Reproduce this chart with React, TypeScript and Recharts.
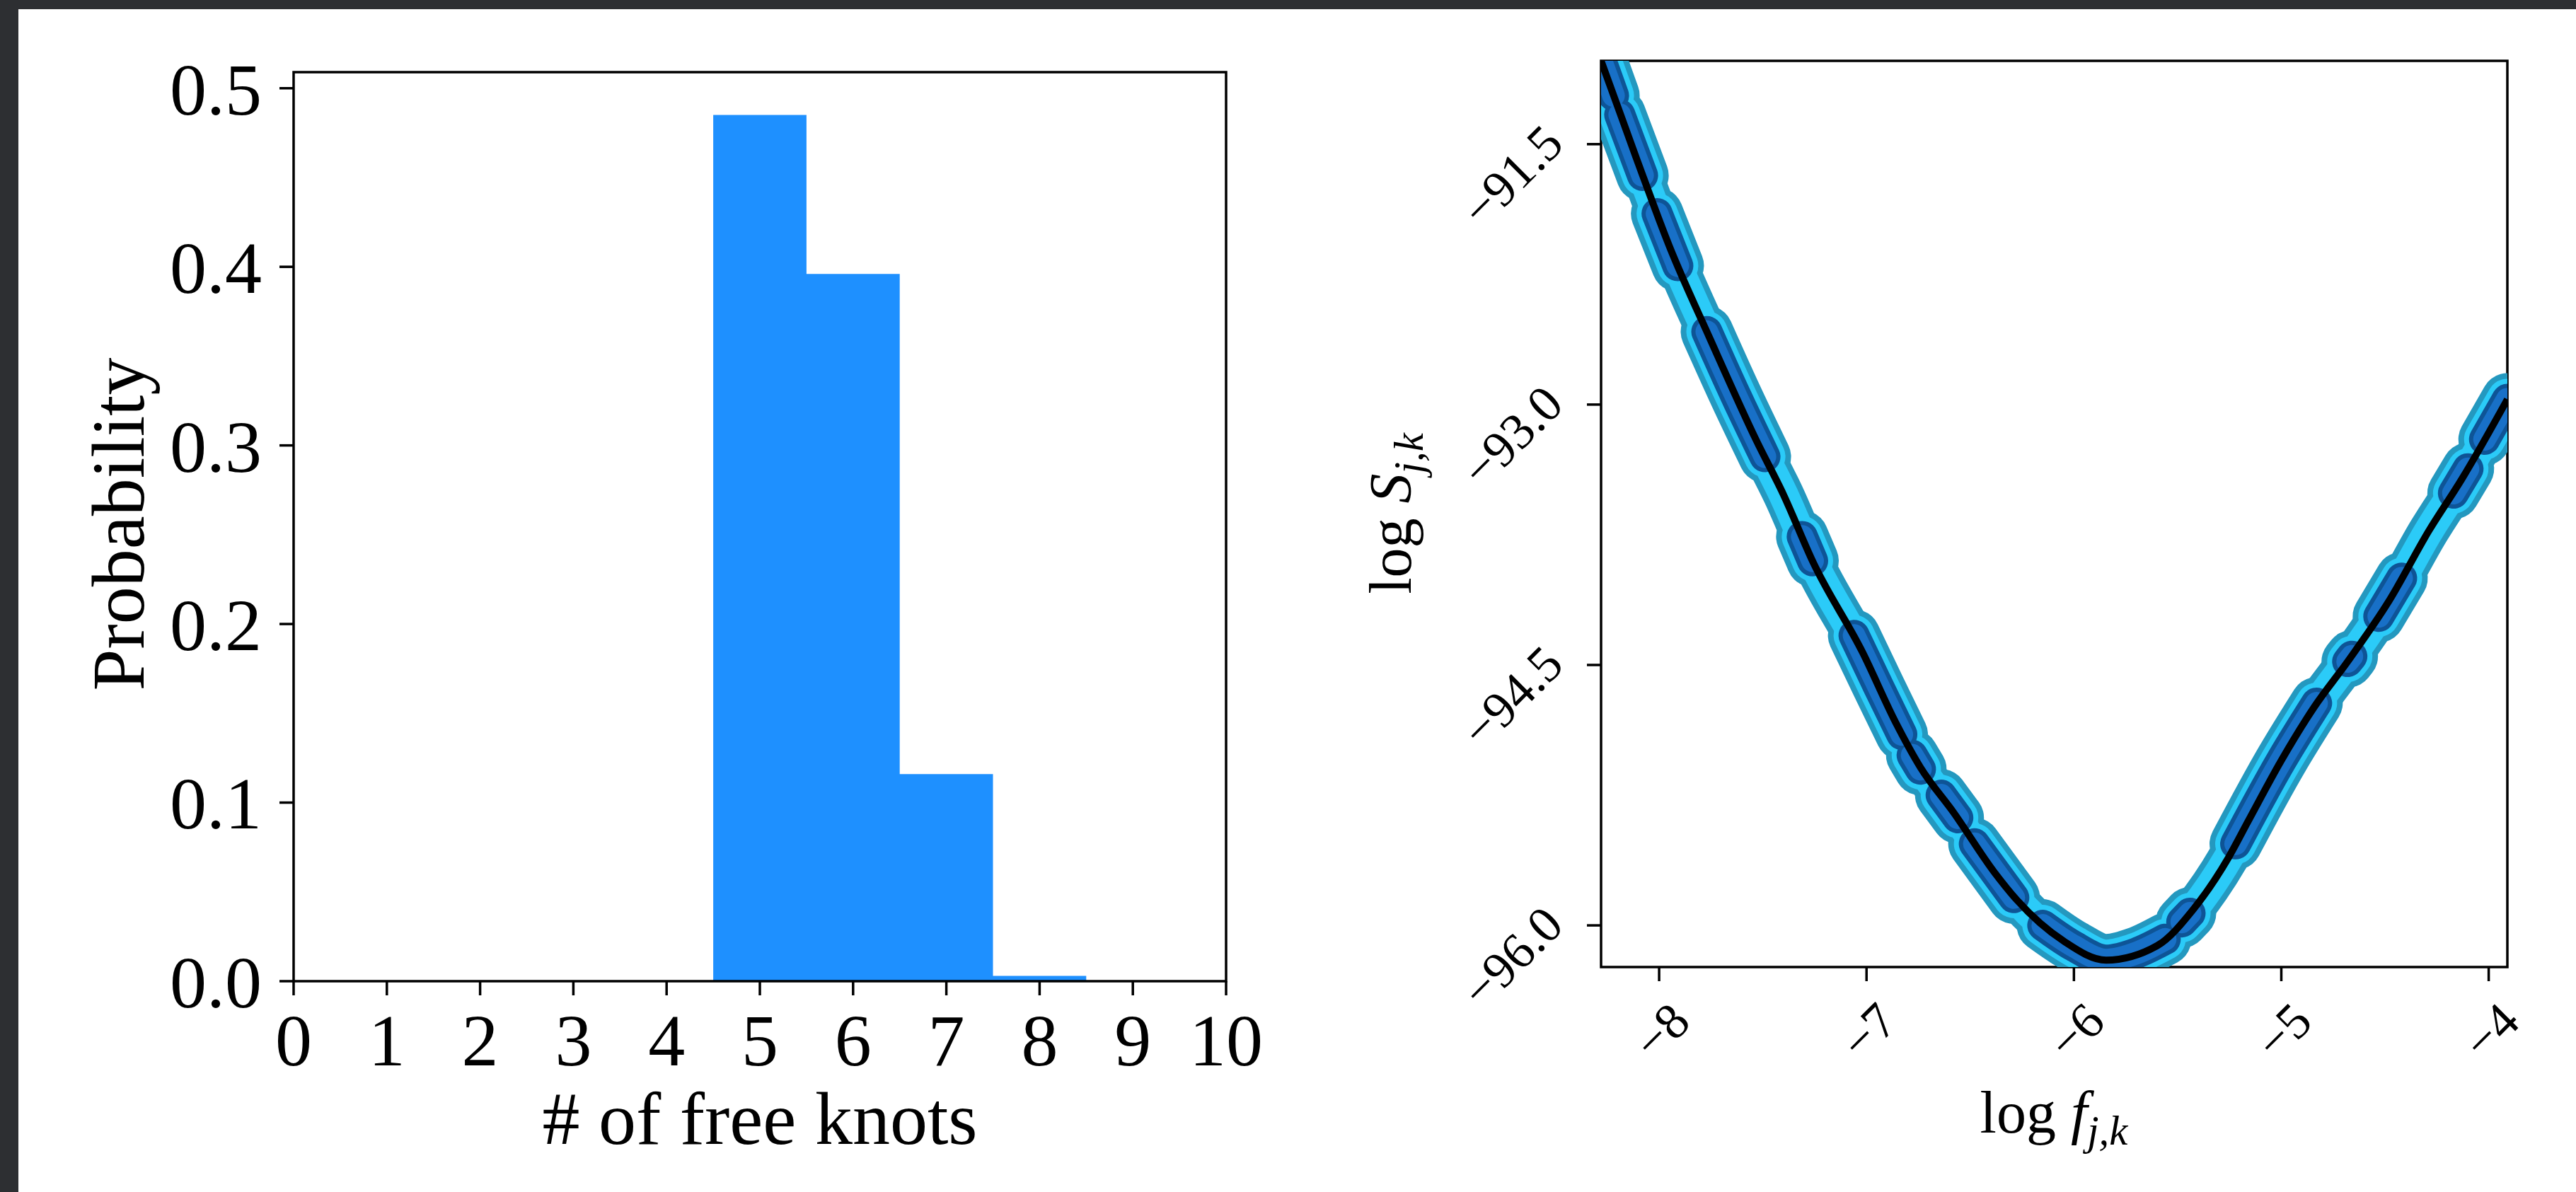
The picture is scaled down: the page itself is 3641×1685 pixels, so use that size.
import { ComposedChart, Area, Line, XAxis, YAxis, ReferenceArea } from 'recharts';

// histogram of the number of free knots
const KNOTS = [5, 6, 7, 8];
const PROBS = [0.485, 0.396, 0.116, 0.003];
const KNOT_TICKS = [0, 1, 2, 3, 4, 5, 6, 7, 8, 9, 10];
const PROB_TICKS = [0, 0.1, 0.2, 0.3, 0.4, 0.5];

// fitted spectrum (log f, log S)
const CURVE_X = [-8.28, -8.11, -7.95, -7.755, -7.53, -7.4, -7.257, -7.018, -6.86, -6.74, -6.58, -6.38, -6.278,
  -6.05, -5.845, -5.596, -5.426, -5.255, -5.16, -5.0, -4.84, -4.68, -4.48, -4.29, -4.13, -3.91];
const CURVE_Y = [-91.02, -91.58, -92.09, -92.62, -93.21, -93.52, -93.91, -94.43, -94.83, -95.09, -95.35, -95.7, -95.85,
  -96.09, -96.2, -96.115, -95.91, -95.61, -95.4, -95.05, -94.74, -94.48, -94.13, -93.73, -93.43, -92.97];

// dense parts of the knot posterior, [log f, log S]
const BLOBS: [number, number][][] = [
  [[-8.28, -91.02], [-8.22, -91.22]],
  [[-8.19, -91.33], [-8.08, -91.68]],
  [[-8.01, -91.9], [-7.91, -92.2]],
  [[-7.77, -92.58], [-7.63, -92.95], [-7.49, -93.3]],
  [[-7.31, -93.76], [-7.26, -93.9]],
  [[-7.06, -94.33], [-6.94, -94.63], [-6.83, -94.9]],
  [[-6.78, -95.02], [-6.74, -95.1]],
  [[-6.64, -95.25], [-6.56, -95.38]],
  [[-6.48, -95.53], [-6.29, -95.84]],
  [[-6.15, -96.0], [-6.0, -96.12], [-5.845, -96.2], [-5.7, -96.16], [-5.56, -96.08]],
  [[-5.48, -95.98], [-5.44, -95.93]],
  [[-5.22, -95.53], [-5.0, -95.05], [-4.83, -94.72]],
  [[-4.68, -94.48], [-4.66, -94.45]],
  [[-4.53, -94.22], [-4.42, -94.0]],
  [[-4.17, -93.51], [-4.1, -93.37]],
  [[-4.02, -93.2], [-3.91, -92.97]],
];
const LOGF_TICKS = [-8, -7, -6, -5, -4];
const LOGS_TICKS = [-96, -94.5, -93, -91.5];

const FONT = '"Liberation Serif", "DejaVu Serif", serif';
const BAR_BLUE = '#1e90ff';

const histData = KNOTS.map((k, i) => ({ x: k - 0.5, p: PROBS[i] })).concat([
  { x: KNOTS[KNOTS.length - 1] + 0.5, p: 0 },
]);
const curveData = CURVE_X.map((x, i) => ({ x, y: CURVE_Y[i] }));
const blobData = BLOBS.map((b) => b.map(([x, y]) => ({ x, y })));

const minus = (s: string) => s.replace('-', '\u2212');

function FreqTick({ x, y, payload }: any) {
  const cx = x + 3;
  const cy = y + 71;
  return (
    <text x={cx} y={cy} transform={`rotate(-45 ${cx} ${cy})`} textAnchor="middle" dominantBaseline="central"
      fontSize={72} fontFamily={FONT} fill="#000">
      {minus(String(payload.value))}
    </text>
  );
}

function PowerTick({ x, y, payload }: any) {
  const cx = x - 106;
  const cy = y + 45;
  return (
    <text x={cx} y={cy} transform={`rotate(-45 ${cx} ${cy})`} textAnchor="middle" dominantBaseline="central"
      fontSize={72} fontFamily={FONT} fill="#000">
      {minus(payload.value.toFixed(1))}
    </text>
  );
}

const tickLine = { stroke: '#000', strokeWidth: 3.5 };

function KnotHistogram() {
  return (
    <ComposedChart width={1800} height={1685} margin={{ top: 102, right: 67, left: 115, bottom: 148 }}>
      <XAxis dataKey="x" type="number" domain={[0, 10]} ticks={KNOT_TICKS} allowDataOverflow
        axisLine={false} tickLine={tickLine} tickSize={20} tickMargin={25} height={150}
        tick={{ fill: '#000', fontSize: 104, fontFamily: FONT }} />
      <YAxis type="number" domain={[0, 0.509]} ticks={PROB_TICKS} allowDataOverflow
        axisLine={false} tickLine={tickLine} tickSize={20} tickMargin={25} width={300}
        tickFormatter={(v: number) => v.toFixed(1)}
        tick={{ fill: '#000', fontSize: 104, fontFamily: FONT }} />
      <Area data={histData} dataKey="p" type="stepAfter" fill={BAR_BLUE} fillOpacity={1} stroke="none"
        isAnimationActive={false} />
      <ReferenceArea x1={0} x2={10} y1={0} y2={0.509} fill="none" stroke="#000" strokeWidth={3.5} />
    </ComposedChart>
  );
}

const BAND_LAYERS = [
  { color: '#2498bf', band: 58, blob: 74 },
  { color: '#2bcbf8', band: 42, blob: 58 },
];
const CORE_LAYERS = [
  { color: '#0e5496', blob: 44 },
  { color: '#1870c7', blob: 32 },
];

function SpectrumPanel() {
  const lineProps = {
    dataKey: 'y', type: 'monotone' as const, dot: false, activeDot: false, isAnimationActive: false,
    strokeLinecap: 'round' as const, strokeLinejoin: 'round' as const,
  };
  return (
    <ComposedChart width={1700} height={1685} margin={{ top: 86, right: 56, left: 63, bottom: 168 }}>
      <XAxis dataKey="x" type="number" domain={[-8.28, -3.91]} ticks={LOGF_TICKS} allowDataOverflow
        axisLine={false} tickLine={tickLine} tickSize={20} tickMargin={0} height={150} tick={<FreqTick />} />
      <YAxis type="number" domain={[-96.24, -91.02]} ticks={LOGS_TICKS} allowDataOverflow
        axisLine={false} tickLine={tickLine} tickSize={20} tickMargin={0} width={300} tick={<PowerTick />} />
      {BAND_LAYERS.map((l, li) => [
        <Line key={`band-${li}`} {...lineProps} data={curveData} stroke={l.color} strokeWidth={l.band} />,
        ...blobData.map((b, bi) => (
          <Line key={`bb-${li}-${bi}`} {...lineProps} data={b} stroke={l.color} strokeWidth={l.blob} />
        )),
      ])}
      {CORE_LAYERS.map((l, li) =>
        blobData.map((b, bi) => (
          <Line key={`core-${li}-${bi}`} {...lineProps} data={b} stroke={l.color} strokeWidth={l.blob} />
        )),
      )}
      <Line {...lineProps} data={curveData} stroke="#000" strokeWidth={10} strokeLinecap="butt" />
      <ReferenceArea x1={-8.28} x2={-3.91} y1={-96.24} y2={-91.02} fill="none" stroke="#000" strokeWidth={3.5} />
    </ComposedChart>
  );
}

const label = (left: number, top: number, size: number, rotate = 0) => ({
  position: 'absolute' as const, left, top, fontFamily: FONT, fontSize: size, lineHeight: 1, color: '#000',
  whiteSpace: 'nowrap' as const, transform: `translate(-50%, -50%) rotate(${rotate}deg)`,
});
const sub = { fontSize: '0.7em', verticalAlign: '-0.3em' };

export default function App() {
  return (
    <div style={{ position: 'absolute', left: 0, top: 0, width: 3641, height: 1685, background: '#2d2f32', overflow: 'hidden' }}>
      <div style={{ position: 'absolute', left: 26, top: 13, width: 3615, height: 1672, background: '#fff' }} />
      <div style={{ position: 'absolute', left: 0, top: 0 }}>
        <KnotHistogram />
      </div>
      <div style={{ position: 'absolute', left: 1900, top: 0 }}>
        <SpectrumPanel />
      </div>
      <div style={label(168, 741, 106, -90)}>Probability</div>
      <div style={label(1074, 1582, 106)}># of free knots</div>
      <div style={label(1973, 726, 84, -90)}>
        log <i>S</i><span style={sub}><i>j,k</i></span>
      </div>
      <div style={label(2903, 1580, 84)}>
        log <i>f</i><span style={sub}><i>j,k</i></span>
      </div>
    </div>
  );
}
